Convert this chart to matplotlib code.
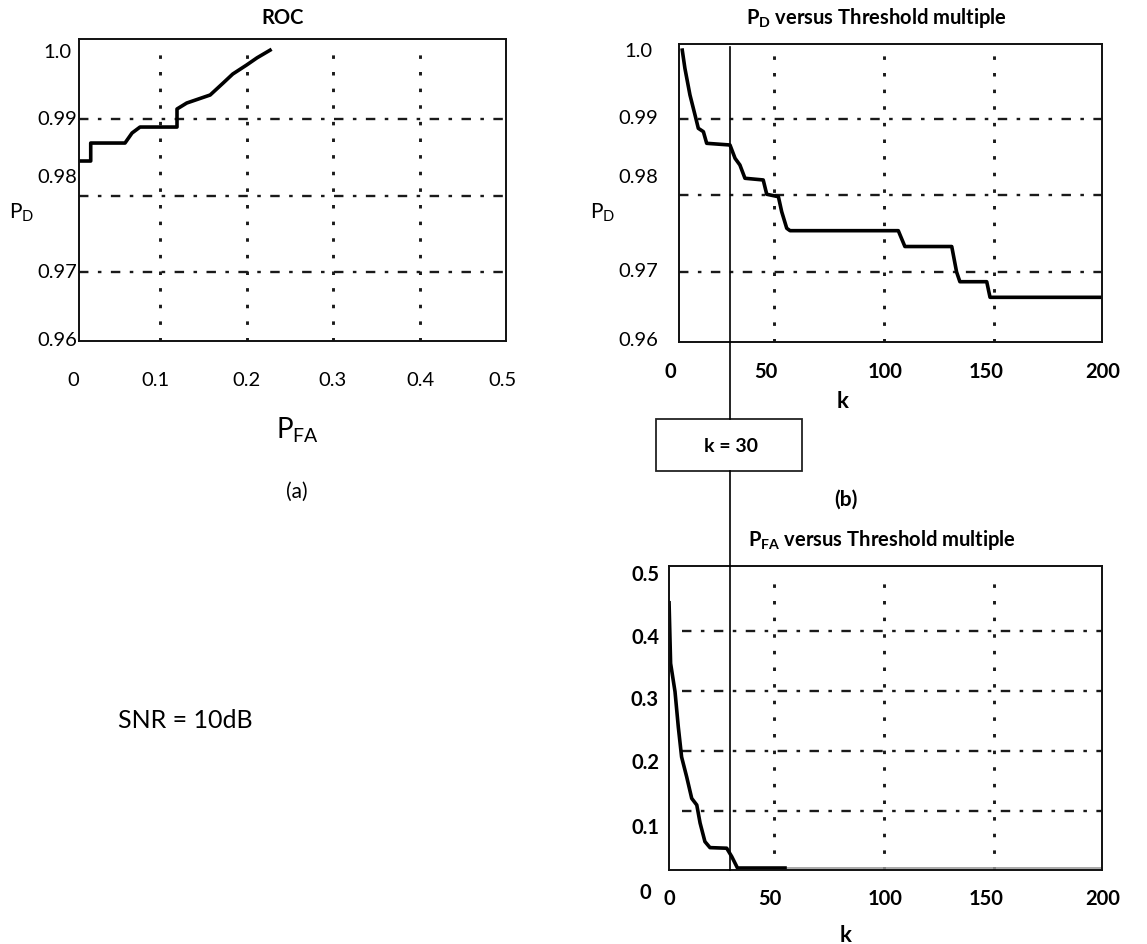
import matplotlib
matplotlib.use("Agg")
import matplotlib.pyplot as plt
from matplotlib.lines import Line2D
from matplotlib.patches import Rectangle
from matplotlib.transforms import blended_transform_factory as blend

plt.rcParams['font.family'] = ['Lato', 'DejaVu Sans']
plt.rcParams['mathtext.fontset'] = 'custom'
plt.rcParams['mathtext.rm'] = 'Lato'
plt.rcParams['mathtext.bf'] = 'Lato:bold'
plt.rcParams['mathtext.it'] = 'Lato:italic'

# (a) ROC curve
roc_pfa = [0.0069, 0.0204, 0.0204, 0.0599, 0.068, 0.0772, 0.1198, 0.1198,
           0.131, 0.158, 0.173, 0.184, 0.200, 0.212, 0.227]
roc_pd = [0.98451, 0.98451, 0.98686, 0.98686, 0.98817, 0.98895, 0.98895, 0.99131,
          0.99209, 0.99314, 0.99471, 0.99588, 0.99706, 0.99800, 0.99900]

# (b) P_D versus k
pd_k = [8.3, 9.5, 11.8, 14.1, 15.6, 17.9, 19.4, 30.0, 32.3, 34.5, 36.8, 45.1, 46.7,
        52.0, 53.5, 55.8, 57.3, 106.5, 109.5, 130.8, 133.0, 134.5, 146.7, 148.2, 199.1]
pd_val = [0.9990, 0.99663, 0.99314, 0.99052, 0.98878, 0.98834, 0.98682, 0.98660,
          0.98486, 0.98399, 0.98225, 0.98203, 0.98016, 0.97984, 0.97788, 0.97571,
          0.97540, 0.97540, 0.97333, 0.97333, 0.97000, 0.96873, 0.96873, 0.96669, 0.96669]

# (b) P_FA versus k
pfa_k = [2.3, 3.0, 5.0, 6.5, 8.0, 10.3, 12.6, 14.9, 16.4, 18.6, 20.9, 28.5, 30.8, 33.4, 55.0]
pfa_val = [0.447, 0.346, 0.299, 0.240, 0.190, 0.157, 0.121, 0.110, 0.080, 0.049,
           0.039, 0.038, 0.024, 0.005, 0.005]
pfa_tail_k = [55.0, 199.0]
pfa_tail_val = [0.005, 0.005]

k_mark = 30

# tick labels (as printed, placed where they sit in the figure)
pd_tick_pos = [0.99876, 0.99, 0.98229, 0.97, 0.96111]
pd_tick_lab = ['1.0', '0.99', '0.98', '0.97', '0.96']
pfa_tick_pos = [0.0, 0.0945, 0.1993, 0.2995, 0.3998, 0.4942]
pfa_tick_lab = ['0', '0.1', '0.2', '0.3', '0.4', '0.5']
k_tick_pos_top = [3.0, 46.5, 100.5, 146.5, 199.5]
k_tick_pos_bot = [2.3, 48.0, 100.5, 146.5, 199.5]
k_tick_lab = ['0', '50', '100', '150', '200']
fa_tick_pos = [0.4933, 0.3883, 0.285, 0.18, 0.0717, -0.0367]
fa_tick_lab = ['0.5', '0.4', '0.3', '0.2', '0.1', '0']

W, H = 1147, 944
fig = plt.figure(figsize=(W / 100, H / 100), dpi=100)


def fx(px):
    return px / W


def fy(py):
    return 1 - py / H


def box(l, t, r, b):
    return [fx(l), fy(b), (r - l) / W, (b - t) / H]


hstyle = dict(color='#1a1a1a', lw=1.7, ls=(0, (4, 4, 1.5, 4)))
vstyle = dict(color='#1a1a1a', lw=2.1, ls=(0, (1.2, 4.5)))


def frame(ax):
    ax.set_xticks([])
    ax.set_yticks([])
    for s in ax.spines.values():
        s.set_linewidth(1.4)
        s.set_color('#111111')


def xlabels(ax, pos, labels, ypx, **kw):
    tr = blend(ax.transData, fig.transFigure)
    for p, s in zip(pos, labels):
        ax.text(p, fy(ypx), s, transform=tr, ha='center', va='center',
                fontsize=14.5, clip_on=False, **kw)


def ylabels(ax, pos, labels, xpx, **kw):
    tr = blend(fig.transFigure, ax.transData)
    for p, s in zip(pos, labels):
        ax.text(fx(xpx), p, s, transform=tr, ha='center', va='center',
                fontsize=14.5, clip_on=False, **kw)


# ---- (a) ROC
ax_a = fig.add_axes(box(79, 39, 506, 341))
frame(ax_a)
ax_a.set_xlim(0.0069, 0.4988)
ax_a.set_ylim(0.96098, 1.00046)
for y in [0.97, 0.98, 0.99]:
    ax_a.axhline(y, **hstyle)
for x in [0.1, 0.2, 0.3, 0.4]:
    ax_a.axvline(x, ymax=0.965, **vstyle)
ax_a.plot(roc_pfa, roc_pd, color='black', lw=2.6)
xlabels(ax_a, pfa_tick_pos, pfa_tick_lab, 380)
ylabels(ax_a, pd_tick_pos, pd_tick_lab, 57)
fig.text(fx(283), fy(18), 'ROC', ha='center', va='center', fontsize=14.5, weight='bold')
fig.text(fx(22), fy(213), r'$\mathregular{P_D}$', ha='center', va='center', fontsize=15)
fig.text(fx(298), fy(430), r'$\mathregular{P_{FA}}$', ha='center', va='center', fontsize=20)
fig.text(fx(297), fy(492), '(a)', ha='center', va='center', fontsize=15)
fig.text(fx(185), fy(720), 'SNR = 10dB', ha='center', va='center', fontsize=18)

# ---- (b) P_D versus threshold multiple
ax_b = fig.add_axes(box(679, 44, 1102, 342))
frame(ax_b)
ax_b.set_xlim(6.82, 199.1)
ax_b.set_ylim(0.96085, 0.99980)
for y in [0.97, 0.98, 0.99]:
    ax_b.axhline(y, **hstyle)
for x in [50, 100, 150]:
    ax_b.axvline(x, ymax=0.99, **vstyle)
ax_b.plot(pd_k, pd_val, color='black', lw=2.6)
xlabels(ax_b, k_tick_pos_top, k_tick_lab, 372, weight='bold')
ylabels(ax_b, pd_tick_pos, pd_tick_lab, 638)
fig.text(fx(876), fy(18), r'$\mathbf{P_D}$ versus Threshold multiple', ha='center',
         va='center', fontsize=14.5, weight='bold')
fig.text(fx(603), fy(213), r'$\mathregular{P_D}$', ha='center', va='center', fontsize=15)
fig.text(fx(843), fy(402), 'k', ha='center', va='center', fontsize=16, weight='bold')

# ---- (b) P_FA versus threshold multiple
ax_c = fig.add_axes(box(669, 566, 1102, 870))
frame(ax_c)
ax_c.set_xlim(2.27, 199.1)
ax_c.set_ylim(0.0017, 0.5083)
for y in [0.1, 0.2, 0.3, 0.4]:
    ax_c.axhline(y, xmin=0.03, **hstyle)
for x in [50, 100, 150]:
    ax_c.axvline(x, ymax=0.96, **vstyle)
ax_c.plot(pfa_tail_k, pfa_tail_val, color='#999999', lw=1.2)
ax_c.plot(pfa_k, pfa_val, color='black', lw=2.6)
xlabels(ax_c, k_tick_pos_bot, k_tick_lab, 899, weight='bold')
ylabels(ax_c, fa_tick_pos, fa_tick_lab, 645, weight='bold')
fig.text(fx(882), fy(540), r'$\mathbf{P_{FA}}$ versus Threshold multiple', ha='center',
         va='center', fontsize=14.5, weight='bold')
fig.text(fx(846), fy(935), 'k', ha='center', va='center', fontsize=16, weight='bold')
fig.text(fx(846), fy(500), '(b)', ha='center', va='center', fontsize=15, weight='bold')

# ---- k = 30 marker line with label box
tr_k = blend(ax_b.transData, fig.transFigure)
fig.add_artist(Line2D([k_mark, k_mark], [fy(47), fy(419)], transform=tr_k,
                      color='black', lw=1.2))
fig.add_artist(Line2D([k_mark, k_mark], [fy(471), fy(870)], transform=tr_k,
                      color='black', lw=1.2))
fig.add_artist(Rectangle((fx(656), fy(471)), (802 - 656) / W, (471 - 419) / H,
                         transform=fig.transFigure, fill=False, lw=1.3, color='#222222'))
fig.text(fx(731), fy(447), 'k = 30', ha='center', va='center', fontsize=14, weight='bold')

fig.savefig('out.png', dpi=100)
